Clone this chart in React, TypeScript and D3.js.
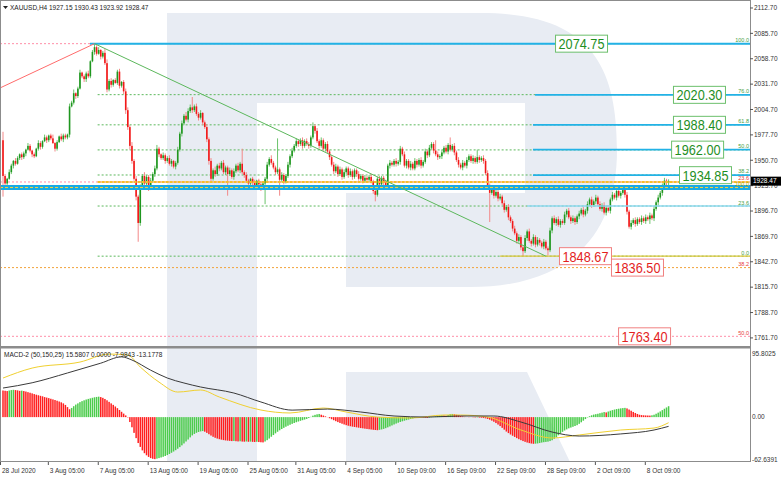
import { useEffect, useRef } from "react";
import * as d3 from "d3";

const W = 782;
const H = 477;

// XAUUSD H4, 28 Jul - 9 Oct 2020. Open of each bar = previous close.
const firstOpen = 1972;
const closes = [
  1934, 1926, 1931, 1938, 1945, 1950, 1947, 1953, 1957, 1954,
  1958, 1962, 1966, 1961, 1957, 1955, 1963, 1969, 1965, 1971,
  1975, 1972, 1977, 1974, 1969, 1963, 1970, 1976, 1973, 1977,
  1975, 1978, 2008, 2012, 2022, 2019, 2027, 2044, 2040, 2037,
  2043, 2040, 2056, 2066, 2071, 2064, 2068, 2061, 2065, 2054,
  2026, 2035, 2031, 2036, 2033, 2045, 2030, 2034, 2024, 2004,
  1986, 1966, 1950, 1931, 1912, 1884, 1922, 1934, 1926, 1933,
  1921, 1929, 1936, 1942, 1963, 1957, 1953, 1956, 1950, 1953,
  1947, 1950, 1944, 1948, 1962, 1979, 1990, 1998, 1994, 2003,
  2007, 2004, 2008, 2000, 1996, 2001, 1991, 1986, 1973, 1950,
  1931, 1940, 1936, 1945, 1942, 1948, 1938, 1943, 1936, 1940,
  1933, 1939, 1945, 1940, 1947, 1938, 1935, 1929, 1926, 1931,
  1927, 1924, 1929, 1925, 1921, 1926, 1931, 1946, 1952, 1948,
  1943, 1938, 1941, 1930, 1935, 1928, 1934, 1946, 1955, 1961,
  1966, 1971, 1968, 1972, 1966, 1971, 1968, 1966, 1975, 1987,
  1982, 1971, 1966, 1972, 1963, 1968, 1960, 1954, 1946, 1939,
  1944, 1936, 1941, 1933, 1938, 1942, 1935, 1939, 1933, 1940,
  1936, 1931, 1934, 1929, 1932, 1930, 1933, 1928, 1918, 1914,
  1931, 1925, 1932, 1927, 1924, 1945, 1948, 1946, 1950, 1947,
  1949, 1963, 1957, 1945, 1950, 1943, 1947, 1942, 1950, 1946,
  1951, 1945, 1949, 1960, 1956, 1964, 1968, 1961, 1957, 1954,
  1955, 1959, 1964, 1960, 1967, 1962, 1966, 1959, 1951, 1946,
  1943, 1948, 1945, 1951, 1955, 1950, 1953, 1949, 1954, 1951,
  1953, 1950, 1937, 1924, 1916, 1920, 1913, 1917, 1910, 1912,
  1905, 1898, 1901, 1890, 1886, 1878, 1873, 1865, 1869, 1858,
  1854, 1868, 1875, 1865, 1862, 1869, 1861, 1866, 1863, 1859,
  1864, 1857, 1855, 1876, 1889, 1884, 1888, 1882, 1886, 1884,
  1893, 1897, 1890, 1886, 1889, 1885, 1891, 1894, 1898, 1893,
  1897, 1904, 1909, 1903, 1907, 1911, 1904, 1899, 1903, 1895,
  1900, 1897, 1909, 1914, 1911, 1918, 1913, 1916, 1919, 1914,
  1896, 1880, 1884, 1887, 1883, 1888, 1885, 1889, 1886, 1890,
  1888, 1892, 1889, 1899, 1906, 1911, 1916, 1924, 1929, 1927.15,
  1928.47,
];
// distance from body top to high, body bottom to low
const hiWick = [
  9, 2, 1, 3, 2, 1, 3, 2, 1, 2,
  2, 1, 3, 2, 1, 2, 1, 3, 2, 1,
  3, 2, 1, 2, 4, 1, 2, 1, 3, 2,
  2, 1, 3, 2, 4, 1, 2, 3, 1, 2,
  2, 3, 1, 2, 3.75, 2, 3, 1, 2, 4,
  4, 2, 3, 1, 2, 2, 3, 1, 2, 3,
  3, 2, 4, 2, 3, 2, 3, 2, 4, 2,
  2, 3, 2, 3, 4, 2, 1, 3, 2, 2,
  3, 2, 1, 2, 3, 2, 3, 2, 4, 3,
  3, 11, 2, 3, 2, 3, 1, 2, 3, 2,
  3, 2, 4, 2, 3, 2, 3, 2, 2, 3,
  2, 3, 2, 3, 2, 16, 2, 3, 2, 1,
  2, 3, 1, 2, 3, 2, 2, 3, 2, 4,
  2, 2, 33, 2, 3, 2, 2, 3, 2, 3,
  2, 3, 2, 2, 3, 2, 3, 2, 2, 4,
  2, 3, 2, 3, 2, 2, 3, 2, 2, 3,
  3, 2, 3, 2, 3, 2, 2, 3, 2, 2,
  2, 3, 2, 2, 3, 2, 2, 3, 2, 3,
  2, 3, 2, 2, 3, 2, 3, 2, 2, 3,
  2, 3, 2, 3, 2, 2, 3, 2, 3, 2,
  2, 3, 2, 3, 2, 3, 2, 2, 11, 3,
  2, 3, 2, 3, 2, 8, 2, 3, 2, 3,
  2, 3, 2, 3, 2, 2, 3, 2, 8, 2,
  2, 3, 2, 3, 2, 3, 2, 3, 2, 3,
  2, 3, 2, 3, 2, 2, 3, 2, 3, 2,
  2, 3, 2, 3, 2, 3, 2, 3, 2, 2,
  3, 2, 2, 3, 2, 3, 2, 3, 2, 2,
  3, 2, 3, 2, 3, 2, 2, 3, 2, 3,
  2, 3, 2, 3, 2, 3, 2, 3, 2, 3,
  2, 3, 2, 3, 2, 2, 3, 2, 3, 2,
  3, 2, 3, 2, 3, 2, 2, 3, 2, 3,
  2, 3, 2, 3, 2, 3, 2, 2, 3, 2,
  1.96,
];
const loWick = [
  22, 3, 2, 1, 2, 3, 2, 1, 2, 3,
  2, 3, 1, 2, 3, 2, 1, 2, 3, 2,
  1, 3, 2, 2, 1, 3, 2, 1, 2, 3,
  2, 2, 3, 1, 2, 3, 2, 1, 2, 3,
  3, 2, 2, 1, 3, 2, 1, 3, 2, 2,
  3, 2, 3, 2, 1, 2, 3, 2, 3, 4,
  3, 4, 3, 2, 4, 20, 3, 2, 3, 2,
  3, 2, 2, 3, 2, 3, 2, 2, 3, 2,
  2, 3, 2, 3, 2, 2, 3, 2, 2, 3,
  2, 3, 2, 2, 3, 2, 3, 2, 3, 4,
  3, 2, 3, 2, 3, 2, 2, 3, 23, 2,
  2, 3, 2, 2, 3, 2, 3, 2, 3, 2,
  3, 2, 3, 2, 3, 2, 22, 3, 2, 2,
  2, 3, 2, 17, 2, 3, 2, 2, 3, 2,
  2, 2, 3, 2, 3, 2, 2, 3, 2, 2,
  3, 2, 3, 2, 2, 3, 2, 3, 2, 3,
  2, 3, 2, 3, 2, 2, 3, 2, 3, 2,
  3, 2, 2, 3, 2, 3, 2, 2, 3, 7,
  2, 3, 2, 3, 2, 2, 3, 2, 2, 3,
  2, 3, 2, 2, 3, 2, 3, 2, 2, 3,
  2, 3, 2, 2, 3, 2, 2, 3, 2, 3,
  2, 3, 2, 2, 3, 2, 2, 3, 2, 3,
  2, 3, 2, 3, 2, 2, 3, 2, 2, 3,
  2, 3, 2, 3, 31, 2, 3, 2, 3, 2,
  2, 3, 2, 3, 2, 3, 2, 3, 2, 3,
  5.33, 2, 3, 2, 3, 2, 3, 2, 3, 2,
  3, 2, 5.5, 2, 3, 2, 3, 2, 3, 2,
  2, 3, 2, 3, 2, 3, 2, 3, 2, 3,
  2, 3, 2, 3, 2, 3, 2, 2, 3, 2,
  3, 2, 3, 2, 2, 3, 2, 3, 2, 3,
  3, 2, 3, 2, 3, 2, 2, 3, 2, 3,
  2, 5, 2, 3, 2, 3, 2, 3, 2, 3,
  3.23,
];

// MACD-2 (50,150,25) histogram, one value per bar
const macdHist = [
  38.0, 37.6, 37.2, 38.0, 38.6, 39.0, 38.6, 38.2, 37.5, 37.8,
  37.2, 36.5, 35.6, 34.8, 33.9, 32.9, 32.0, 31.2, 30.4, 29.7,
  28.6, 27.9, 27.1, 26.2, 25.3, 24.4, 23.4, 22.3, 21.1, 19.6,
  17.4, 14.3, 11.2, 13.1, 15.6, 17.9, 19.6, 21.4, 22.8, 24.0,
  25.1, 26.0, 26.8, 27.6, 28.3, 28.8, 29.2, 28.6, 27.5, 25.9,
  24.0, 21.8, 19.6, 17.5, 15.2, 12.8, 10.2, 7.6, 5.0, 2.4,
  -0.5, -7.0, -14.5, -22.5, -30.0, -37.0, -42.5, -47.5, -51.5, -54.5,
  -56.8, -58.5, -59.5, -60.0, -59.3, -58.5, -57.6, -56.6, -55.5, -54.2,
  -52.6, -50.9, -49.1, -47.2, -45.1, -42.8, -40.3, -37.6, -34.8, -32.0,
  -28.9, -26.1, -24.0, -22.4, -21.2, -20.4, -19.9, -20.8, -22.5, -24.4,
  -26.3, -28.1, -29.5, -30.6, -31.5, -32.2, -32.8, -33.3, -33.6, -33.9,
  -34.2, -34.0, -34.4, -34.7, -34.5, -34.9, -35.1, -34.8, -35.2, -35.0,
  -35.3, -35.5, -35.2, -35.6, -35.9, -36.1, -34.8, -32.9, -30.6, -28.0,
  -25.6, -23.2, -20.9, -18.8, -17.0, -15.3, -13.7, -12.3, -10.9, -9.6,
  -8.4, -7.3, -6.3, -5.3, -4.4, -3.5, -2.6, -1.3, 0.4, 2.1,
  3.2, 4.0, 4.5, 3.4, 2.3, 1.1, -0.2, -1.6, -3.0, -4.4,
  -5.8, -7.1, -8.3, -9.4, -10.5, -11.5, -12.3, -13.0, -13.6, -14.1,
  -14.6, -15.1, -15.6, -16.0, -16.5, -16.9, -17.3, -17.7, -18.1, -18.4,
  -18.7, -18.2, -17.6, -16.8, -15.8, -14.6, -13.3, -11.9, -10.5, -9.2,
  -8.0, -6.9, -6.0, -5.1, -4.3, -3.5, -2.7, -2.0, -1.3, -0.6,
  -0.2, -0.5, -0.8, -1.0, -1.2, -0.9, -0.4, 0.3, 1.0, 1.6,
  2.2, 2.6, 2.4, 2.0, 3.1, 4.2, 4.5, 4.1, 3.4, 2.6,
  1.8, 1.0, 0.4, -0.1, -0.3, -0.2, -0.4, -0.6, -0.5, -0.8,
  -1.0, -1.3, -1.8, -2.6, -3.6, -5.0, -6.6, -8.5, -10.6, -12.8,
  -15.3, -17.9, -20.6, -22.8, -24.8, -26.6, -28.3, -30.0, -31.5, -32.9,
  -34.2, -35.3, -36.3, -37.1, -37.7, -38.1, -37.9, -37.6, -37.0, -36.3,
  -35.8, -35.4, -35.0, -34.2, -33.0, -31.0, -28.6, -26.0, -23.4, -21.0,
  -19.1, -17.5, -16.0, -14.9, -13.8, -12.7, -11.5, -9.6, -7.4, -5.1,
  -2.8, -0.6, 1.3, 2.6, 3.6, 4.2, 4.8, 5.6, 6.4, 7.2,
  6.7, 8.0, 9.1, 10.0, 10.8, 11.5, 12.0, 12.5, 12.9, 13.2,
  12.4, 10.8, 9.1, 7.4, 5.9, 4.5, 3.4, 2.9, 2.6, 2.4,
  2.3, 2.2, 2.6, 3.4, 4.8, 6.4, 8.1, 10.0, 12.0, 13.8,
  15.58,
];
const macdMainBars = [0, 14, 31, 47, 57, 62, 71, 79, 87, 95, 111, 124, 139, 156, 172, 188, 204, 220, 236, 249, 264, 277, 297, 313, 320];
const macdMainVals = [41.5, 49, 63, 77, 86, 81.5, 67, 55.8, 48.7, 43, 34.4, 21.6, 10, 11.5, 7.3, 1.6, 0.1, 1.6, 1.6, -7, -21.3, -27, -24, -18.4, -13.18];
const macdSignalBars = [0, 14, 37, 51, 60, 66, 75, 84, 95, 104, 124, 138, 154, 165, 180, 196, 212, 220, 233, 249, 264, 277, 297, 313, 320];
const macdSignalVals = [55.8, 70, 78.6, 90, 88.6, 71.5, 50, 35.8, 38.7, 28.7, 10.1, 5.9, 13, 7.3, 0.1, -1.3, 3, 3, 0.1, -18.4, -29.8, -25.5, -18.4, -15.6, -7.98];

const dateBars = [0, 23, 47, 71, 95, 119, 142, 166, 190, 214, 238, 262, 286, 310];
const dateLabels = [
  "28 Jul 2020", "3 Aug 05:00", "7 Aug 05:00", "13 Aug 05:00", "19 Aug 05:00",
  "25 Aug 05:00", "31 Aug 05:00", "4 Sep 05:00", "10 Sep 09:00", "16 Sep 09:00",
  "22 Sep 09:00", "28 Sep 09:00", "2 Oct 09:00", "8 Oct 09:00",
];
const priceTicks = [2112.7, 2085.7, 2058.7, 2031.7, 2004.7, 1977.7, 1950.7, 1923.7, 1896.7, 1869.7, 1842.7, 1815.7, 1788.7, 1761.7];
const macdTicks = [95.8025, 0, -62.6391];
const lastPrice = 1928.47;

// Fibonacci retracement from the 7 Aug high to the 24 Sep low
const fibHigh = 2074.75;
const fibLow = 1848.67;
const fibHighBar = 44;
const fibLowBar = 261;
const fibRatios = [100, 76, 61.8, 50, 38.2, 23.6, 0];
const fibLabels = ["100.0", "76.0", "61.8", "50.0", "38.2", "23.6", "0.0"];
// second (red) grid
const redFibLevels = [2074.75, 1927.6, 1836.5, 1763.4];
const redFibLabels = ["", "23.6", "38.2", "50.0"];
const bandLevel = 1921.7;
const trendStart = [-1.44, 2027.6];

// boxed targets
const greenTargets = [2074.75, 2020.3, 1988.4, 1962.0, 1934.85];
const greenTargetBars = [265.4, 322.1, 322.1, 321.2, 325];
const blueLineBars = [41.8, 255.8, 254.8, 254.8, 254.8];
const redTargets = [1848.67, 1836.5, 1763.4];
const redTargetBars = [267.3, 292.3, 295.7];

export default function App() {
  const svgRef = useRef<SVGSVGElement>(null);

  useEffect(() => {
    if (!svgRef.current) return;
    const svg = d3.select(svgRef.current);
    svg.selectAll("*").remove();

    const font = "'Liberation Sans', Arial, sans-serif";
    const plotRight = 750;
    const main = { top: 0, bottom: 346 };
    const sub = { top: 350, bottom: 461 };

    const x = d3.scaleLinear().domain([0, closes.length - 1]).range([3, 668.6]);
    const y = d3.scaleLinear().domain([1753.1, 2121.2]).range([main.bottom, main.top]);
    const ym = d3.scaleLinear().domain([-62.6391, 95.8025]).range([sub.bottom, sub.top]);

    svg.append("rect").attr("width", W).attr("height", H).attr("fill", "#fff");

    // watermark logo
    const wm = svg.append("g").attr("fill", "#e8ecf3");
    wm.append("path").attr("d", "M167,13 H480 C590,13 617,65 617,150 C617,235 570,287 470,287 H346 V193 H525 V103 H257 V462 H167 Z");
    wm.append("path").attr("d", "M346,372 H527 L570,462 H346 Z");

    const defs = svg.append("defs");
    defs.append("clipPath").attr("id", "clipMain").append("rect")
      .attr("x", 0).attr("y", main.top).attr("width", plotRight).attr("height", main.bottom - main.top);
    defs.append("clipPath").attr("id", "clipSub").append("rect")
      .attr("x", 0).attr("y", sub.top).attr("width", plotRight).attr("height", sub.bottom - sub.top);

    const g = svg.append("g").attr("clip-path", "url(#clipMain)");

    const hline = (v: number, x1: number, color: string, width: number, dash: string | null) =>
      g.append("line")
        .attr("x1", x1).attr("x2", plotRight)
        .attr("y1", y(v)).attr("y2", y(v))
        .attr("stroke", color).attr("stroke-width", width)
        .attr("stroke-dasharray", dash);

    // red grid lines
    redFibLevels.forEach((v, k) => hline(v, 0, k === 2 ? "#f2a33a" : "#ff8fa8", 1, "2,2"));

    // green fib levels
    const fibPrice = (r: number) => fibLow + ((fibHigh - fibLow) * r) / 100;
    fibRatios.forEach((r) => hline(fibPrice(r), x(fibHighBar + 1.5), "#5cb85c", 1, "2,2"));

    // candles
    const candles = closes.map((c, i) => {
      const o = i === 0 ? firstOpen : closes[i - 1];
      return { i, o, c, hi: Math.max(o, c) + hiWick[i], lo: Math.min(o, c) - loWick[i] };
    });
    g.append("g").selectAll("line").data(candles).join("line")
      .attr("x1", (d) => x(d.i)).attr("x2", (d) => x(d.i))
      .attr("y1", (d) => y(d.hi)).attr("y2", (d) => y(d.lo))
      .attr("stroke", (d) => (d.c >= d.o ? "#6cc46c" : "#f38888"))
      .attr("stroke-width", 1);
    g.append("g").selectAll("rect").data(candles).join("rect")
      .attr("x", (d) => x(d.i) - 0.8).attr("width", 1.6)
      .attr("y", (d) => y(Math.max(d.o, d.c)))
      .attr("height", (d) => Math.max(1, Math.abs(y(d.o) - y(d.c))))
      .attr("fill", (d) => (d.c >= d.o ? "#1f961f" : "#f21818"));

    // blue support band and yellow line above it
    hline(bandLevel, 0, "#1aa9e2", 5, null);
    hline(bandLevel, 0, "#f5d23a", 1, "3,2");
    hline(redFibLevels[1], x(fibHighBar + 1.5), "#f5bf2a", 2, "3,1");

    // blue target lines
    greenTargets.forEach((v, k) => hline(v, x(blueLineBars[k]), "#22b2e6", k === 0 ? 2 : 1.6, null));
    hline(fibPrice(23.6), x(252), "#8fd8f2", 1.4, null);
    hline(fibLow, x(239), "#dcc63a", 1.3, null);

    // trend lines
    const line = d3.line<number[]>().x((d) => x(d[0])).y((d) => y(d[1]));
    g.append("path").datum([trendStart, [fibHighBar, fibHigh]])
      .attr("d", line).attr("fill", "none").attr("stroke", "#ff6b6b").attr("stroke-width", 1);
    g.append("path").datum([[fibHighBar, fibHigh], [fibLowBar, fibLow]])
      .attr("d", line).attr("fill", "none").attr("stroke", "#5cb85c").attr("stroke-width", 1);

    // small level captions
    fibRatios.forEach((r, k) => {
      g.append("text").attr("x", 749).attr("y", y(fibPrice(r)) - 1.5)
        .attr("text-anchor", "end").attr("font-family", font).attr("font-size", 5.5)
        .attr("fill", "#46a046").text(fibLabels[k]);
    });
    redFibLevels.forEach((v, k) => {
      if (!redFibLabels[k]) return;
      g.append("text").attr("x", 749).attr("y", y(v) - 1.5)
        .attr("text-anchor", "end").attr("font-family", font).attr("font-size", 5.5)
        .attr("fill", "#e83a3a").text(redFibLabels[k]);
    });
    g.append("text").attr("x", 749).attr("y", y(bandLevel) - 2)
      .attr("text-anchor", "end").attr("font-family", font).attr("font-size", 5.5)
      .attr("fill", "#b0a800").text("100.0");

    // boxed price targets
    const box = (v: number, bar: number, stroke: string, color: string) => {
      const bx = x(bar);
      const by = y(v);
      g.append("rect").attr("x", bx + 0.5).attr("y", by - 8.5).attr("width", 52).attr("height", 17)
        .attr("fill", "#fff").attr("stroke", stroke).attr("stroke-width", 1);
      g.append("text").attr("x", bx + 26.5).attr("y", by + 5.5)
        .attr("text-anchor", "middle").attr("font-family", font).attr("font-size", 15)
        .attr("textLength", 46).attr("lengthAdjust", "spacingAndGlyphs")
        .attr("fill", color).text(v.toFixed(2));
    };
    greenTargets.forEach((v, k) => box(v, greenTargetBars[k], "#6cbf6c", "#1f8f1f"));
    redTargets.forEach((v, k) => box(v, redTargetBars[k], "#f08080", "#e31e1e"));

    // MACD panel
    const gs = svg.append("g").attr("clip-path", "url(#clipSub)");
    gs.append("g").selectAll("rect").data(macdHist).join("rect")
      .attr("x", (_, i) => x(i) - 0.75).attr("width", 1.5)
      .attr("y", (d) => Math.min(ym(d), ym(0)))
      .attr("height", (d) => Math.abs(ym(d) - ym(0)))
      .attr("fill", (d, i) => (i > 0 && d > macdHist[i - 1] ? "#4ccc4c" : "#ff2020"));
    const mline = d3.line<number>().x((_, k) => x(macdMainBars[k])).y((d) => ym(d)).curve(d3.curveMonotoneX);
    const sline = d3.line<number>().x((_, k) => x(macdSignalBars[k])).y((d) => ym(d)).curve(d3.curveMonotoneX);
    gs.append("path").datum(macdSignalVals).attr("d", sline).attr("fill", "none").attr("stroke", "#f0d030").attr("stroke-width", 1);
    gs.append("path").datum(macdMainVals).attr("d", mline).attr("fill", "none").attr("stroke", "#3a3a3a").attr("stroke-width", 1);

    // frame
    const frame = svg.append("g").attr("stroke", "#8c8c8c").attr("shape-rendering", "crispEdges");
    frame.append("line").attr("x1", 0).attr("x2", plotRight).attr("y1", 0.5).attr("y2", 0.5);
    frame.append("line").attr("x1", 0.5).attr("x2", 0.5).attr("y1", 0).attr("y2", sub.bottom);
    frame.append("line").attr("x1", plotRight + 0.5).attr("x2", plotRight + 0.5).attr("y1", 0).attr("y2", sub.bottom + 1);
    frame.append("line").attr("x1", 0).attr("x2", plotRight).attr("y1", sub.bottom + 0.5).attr("y2", sub.bottom + 0.5);
    svg.append("rect").attr("x", 0).attr("y", main.bottom).attr("width", plotRight + 1).attr("height", 2.5).attr("fill", "#8c8c8c");

    // price axis
    const ax = svg.append("g").attr("font-family", font).attr("font-size", 6.5).attr("fill", "#333");
    priceTicks.forEach((v) => {
      ax.append("line").attr("x1", plotRight).attr("x2", plotRight + 3).attr("y1", y(v)).attr("y2", y(v))
        .attr("stroke", "#555");
      ax.append("text").attr("x", 754).attr("y", y(v) + 2.3).text(v.toFixed(2));
    });
    macdTicks.forEach((v, k) => {
      const ty = k === 0 ? ym(v) + 5.5 : k === 2 ? ym(v) + 1 : ym(v) + 2.3;
      ax.append("text").attr("x", 752).attr("y", ty).text(k === 1 ? "0.00" : String(v));
    });
    ax.append("rect").attr("x", 751).attr("y", y(lastPrice) - 4.5).attr("width", 30).attr("height", 9).attr("fill", "#000");
    ax.append("text").attr("x", 753).attr("y", y(lastPrice) + 2.3).attr("fill", "#fff").text(lastPrice.toFixed(2));

    // time axis
    dateBars.forEach((b, k) => {
      ax.append("line").attr("x1", x(b) - 2.5).attr("x2", x(b) - 2.5).attr("y1", sub.bottom + 1).attr("y2", sub.bottom + 4)
        .attr("stroke", "#555");
      ax.append("text").attr("x", Math.max(2, x(b) - 1)).attr("y", 472.5).text(dateLabels[k]);
    });

    // captions
    svg.append("path").attr("d", "M3,6 L8,6 L5.5,9 Z").attr("fill", "#222");
    ax.append("text").attr("x", 10).attr("y", 10).attr("fill", "#222")
      .text("XAUUSD,H4  1927.15 1930.43 1923.92 1928.47");
    ax.append("text").attr("x", 4).attr("y", 357).attr("fill", "#222")
      .text("MACD-2 (50,150,25) 15.5807 0.0000 -7.9843 -13.1778");
  }, []);

  return (
    <div style={{ position: "absolute", left: 0, top: 0 }}>
      <svg ref={svgRef} width={W} height={H} />
    </div>
  );
}
